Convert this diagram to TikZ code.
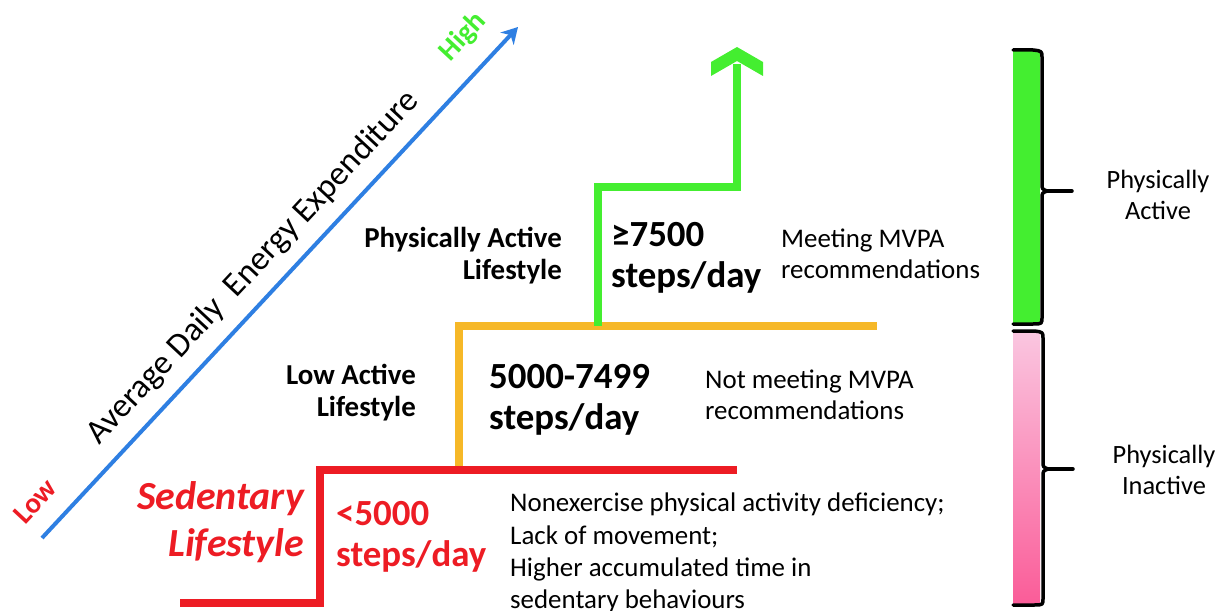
\documentclass[tikz,border=0pt]{standalone}
\usepackage{fontspec}
\setmainfont{Carlito}
\usetikzlibrary{arrows.meta}

\definecolor{stepred}{RGB}{237,28,36}
\definecolor{steporange}{RGB}{246,184,40}
\definecolor{stepgreen}{RGB}{68,238,48}
\definecolor{axisblue}{RGB}{46,127,226}
\definecolor{pinktop}{RGB}{250,198,224}
\definecolor{pinkbottom}{RGB}{250,92,152}

\begin{document}
\begin{tikzpicture}[x=1bp,y=-1bp]
                    \tikzstyle{stair} = [line width=8bp, line join=miter]
                    \tikzstyle{lifestyle} = [font=\bfseries\fontsize{29}{32}\selectfont, anchor=east, align=right, inner sep=0pt]
                    \tikzstyle{steps} = [font=\bfseries\fontsize{37}{41}\selectfont, anchor=west, align=left, inner sep=0pt]
                    \tikzstyle{remark} = [font=\fontsize{27}{31}\selectfont, anchor=west, align=left, inner sep=0pt]
                    \tikzstyle{brace} = [line width=3.5bp, line cap=round, line join=round]
                    \useasboundingbox (0,0) rectangle (1221,611);
                    \clip (0,0) rectangle (1221,611);
                    % axis
                    \coordinate (low) at (42,538);
                    \coordinate (high) at (518,27);
                    \draw[axisblue, line width=4bp, -{Stealth[length=16bp,width=18bp,inset=5bp]}] (low) -- (high);
                    \node[rotate=47, text=stepred, font=\bfseries\fontsize{29}{29}\selectfont] (lowtxt) at (35,501) {Low};
                    \node[rotate=47, text=stepgreen, font=\bfseries\fontsize{29}{29}\selectfont] (hightxt) at (463,37) {High};
                    \node[rotate=47, font=\fontsize{34}{34}\selectfont] (axistxt) at (253,268) {Average Daily\ \ Energy Expenditure};
                    % stairs
                    \coordinate (r0) at (180,603);
                    \coordinate (r1) at (320,603);
                    \coordinate (r2) at (320,470);
                    \coordinate (r3) at (737,470);
                    \coordinate (o1) at (459,470);
                    \coordinate (o2) at (459,326);
                    \coordinate (o3) at (877,326);
                    \coordinate (g1) at (598,326);
                    \coordinate (g2) at (598,187);
                    \coordinate (g3) at (737,187);
                    \coordinate (g4) at (737,64);
                    \draw[stair, steporange] (o1) -- (o2) -- (o3);
                    \draw[stair, stepred] (r0) -- (r1) -- (r2) -- (r3);
                    \draw[stair, stepgreen] (g1) -- (g2) -- (g3) -- (g4);
                    \fill[stepgreen] (737,47) -- (763,62) -- (763,76) -- (737,61) -- (711,76) -- (711,62) -- cycle;
                    % labels
                    \node[lifestyle] (pal) at (562,256) {Physically Active\\Lifestyle};
                    \node[lifestyle] (lal) at (416,393) {Low Active\\Lifestyle};
                    \node[lifestyle, text=stepred, font=\bfseries\itshape\fontsize{40}{47}\selectfont] (sl) at (304,522) {Sedentary\\Lifestyle};
                    \node[steps, text=stepred] (red) at (336,537) {<5000\\steps/day};
                    \node[steps] (orange) at (489,400) {5000-7499\\steps/day};
                    \node[steps] (green) at (611,258) {≥7500\\steps/day};
                    \node[remark] (meet) at (781,254) {Meeting MVPA\\recommendations};
                    \node[remark] (notmeet) at (705,395) {Not meeting MVPA\\recommendations};
                    \node[remark, font=\fontsize{27}{32.3}\selectfont] (lack) at (510,553) {Nonexercise physical activity deficiency;\\Lack of movement;\\Higher accumulated time in\\sedentary behaviours};
                    % bar
                    \fill[stepgreen] (1013,50) rectangle (1040,324);
                    \shade[top color=pinktop, bottom color=pinkbottom] (1013,331) rectangle (1040,605);
                    \draw[brace] (1013,50) -- (1033,50) .. controls (1042,51) .. (1042,58) -- (1042,184)
                        .. controls (1042,189) .. (1047,191) .. controls (1042,193) .. (1042,198) -- (1042,317)
                        .. controls (1042,324) .. (1033,324) -- (1013,324);
                    \draw[brace] (1047,191) -- (1072,191);
                    \draw[brace] (1013,331) -- (1034,331) .. controls (1043,332) .. (1043,339) -- (1043,462)
                        .. controls (1043,467) .. (1048,469) .. controls (1043,471) .. (1043,476) -- (1043,598)
                        .. controls (1043,605) .. (1034,605) -- (1013,605);
                    \draw[brace] (1048,469) -- (1073,469);
                    \node[font=\fontsize{26.5}{31}\selectfont, align=center] (active) at (1158,195) {Physically\\Active};
                    \node[font=\fontsize{26.5}{31}\selectfont, align=center] (inactive) at (1164,470) {Physically\\Inactive};
                \end{tikzpicture}
\end{document}
